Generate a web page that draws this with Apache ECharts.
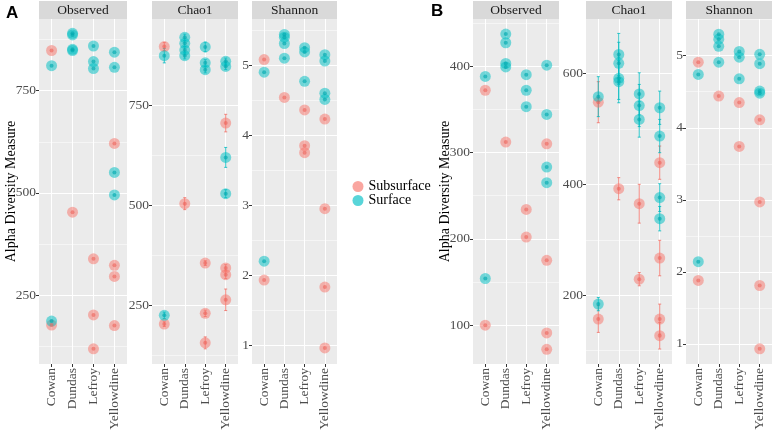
<!DOCTYPE html>
<html>
<head>
<meta charset="utf-8">
<script src="https://cdn.jsdelivr.net/npm/echarts@6/dist/echarts.min.js"></script>
<style>
  html, body { margin: 0; padding: 0; background: #fff; }
  #chart { width: 774px; height: 433px; }
</style>
</head>
<body>
<div id="chart"></div>
<script>
const sites = ['Cowan', 'Dundas', 'Lefroy', 'Yellowdine'];

// panel A, [site index, value] ; chao1 rows are [site index, value, se]
const aObservedSub = [[0, 848], [0, 177], [1, 453], [2, 339], [2, 202], [2, 119], [3, 621], [3, 323], [3, 296], [3, 176]];
const aObservedSurf = [[0, 811], [0, 187], [1, 890], [1, 886], [1, 851], [1, 848], [2, 859], [2, 821], [2, 804], [3, 844], [3, 807], [3, 550], [3, 495]];
const aChao1Sub = [[0, 898, 10], [0, 202, 6], [1, 504, 15], [2, 355, 6], [2, 229, 8], [2, 155, 15], [3, 706, 22], [3, 343, 8], [3, 326, 10], [3, 263, 27]];
const aChao1Surf = [[0, 875, 18], [0, 224, 8], [1, 921, 8], [1, 906, 8], [1, 889, 8], [1, 875, 8], [2, 897, 12], [2, 857, 8], [2, 840, 8], [3, 861, 8], [3, 848, 8], [3, 620, 25], [3, 529, 10]];
const aShannonSub = [[0, 5.08], [0, 1.93], [1, 4.54], [2, 4.36], [2, 3.85], [2, 3.75], [3, 4.23], [3, 2.95], [3, 1.83], [3, 0.96]];
const aShannonSurf = [[0, 4.90], [0, 2.20], [1, 5.44], [1, 5.40], [1, 5.31], [1, 5.10], [2, 5.25], [2, 5.19], [2, 4.77], [3, 5.15], [3, 5.06], [3, 4.60], [3, 4.51]];

// panel B
const bObservedSub = [[0, 372], [0, 100], [1, 312], [2, 234], [2, 202], [3, 310], [3, 175], [3, 91], [3, 72]];
const bObservedSurf = [[0, 388], [0, 154], [1, 437], [1, 427], [1, 403], [1, 399], [2, 390], [2, 372], [2, 353], [3, 401], [3, 344], [3, 283], [3, 265]];
const bChao1Sub = [[0, 548, 37], [0, 157, 24], [1, 392, 20], [2, 365, 35], [2, 229, 12], [3, 439, 30], [3, 267, 32], [3, 157, 27], [3, 127, 24]];
const bChao1Surf = [[0, 558, 36], [0, 184, 12], [1, 634, 38], [1, 618, 38], [1, 591, 38], [1, 585, 38], [2, 563, 38], [2, 542, 38], [2, 517, 32], [3, 538, 30], [3, 487, 30], [3, 376, 25], [3, 338, 22]];
const bShannonSub = [[0, 4.91], [0, 1.88], [1, 4.44], [2, 4.35], [2, 3.74], [3, 4.11], [3, 2.97], [3, 1.81], [3, 0.93]];
const bShannonSurf = [[0, 4.74], [0, 2.14], [1, 5.30], [1, 5.23], [1, 5.13], [1, 4.91], [2, 5.06], [2, 4.98], [2, 4.68], [3, 5.02], [3, 4.89], [3, 4.51], [3, 4.48]];

// axis ticks (major + minor gridlines)
const countTicks = [250, 500, 750];
const countMinor = [125, 375, 625, 875];
const shannonTicks = [1, 2, 3, 4, 5];
const shannonMinor = [1.5, 2.5, 3.5, 4.5, 5.5];
const bObservedTicks = [100, 200, 300, 400];
const bObservedMinor = [150, 250, 350, 450];
const bChao1Ticks = [200, 400, 600];
const bChao1Minor = [100, 300, 500];

const FONT = '"Liberation Serif", "DejaVu Serif", serif';
const SUB = 'rgba(248,118,109,0.65)';
const SUB_DOT = 'rgba(236,98,90,0.75)';
const SURF = 'rgba(0,191,196,0.65)';
const SURF_DOT = 'rgba(0,168,174,0.8)';
const TOP = 19, HEIGHT = 345;

const facets = [
  { strip: 'Observed', left: 39, width: 88, min: 82, max: 925, ticks: countTicks, minor: countMinor, sub: aObservedSub, surf: aObservedSurf, yName: true },
  { strip: 'Chao1', left: 152, width: 86, min: 102, max: 967, ticks: countTicks, minor: countMinor, sub: aChao1Sub, surf: aChao1Surf, err: true },
  { strip: 'Shannon', left: 252, width: 85, min: 0.73, max: 5.66, ticks: shannonTicks, minor: shannonMinor, sub: aShannonSub, surf: aShannonSurf },
  { strip: 'Observed', left: 473, width: 86, min: 55, max: 454.5, ticks: bObservedTicks, minor: bObservedMinor, sub: bObservedSub, surf: bObservedSurf, yName: true },
  { strip: 'Chao1', left: 586, width: 86, min: 76, max: 698, ticks: bChao1Ticks, minor: bChao1Minor, sub: bChao1Sub, surf: bChao1Surf, err: true },
  { strip: 'Shannon', left: 686, width: 86, min: 0.72, max: 5.51, ticks: shannonTicks, minor: shannonMinor, sub: bShannonSub, surf: bShannonSurf }
];

const grid = [], xAxis = [], yAxis = [], series = [], graphic = [];

function errorSeries(name, color, rows, i) {
  return {
    type: 'custom',
    name: name,
    xAxisIndex: i,
    yAxisIndex: i,
    z: 2,
    silent: true,
    encode: { x: 0, y: [1, 2] },
    data: rows.map(r => [r[0] + 1, r[1] - r[2], r[1] + r[2]]),
    renderItem: function (params, api) {
      const lo = api.coord([api.value(0), api.value(1)]);
      const hi = api.coord([api.value(0), api.value(2)]);
      const w = 1.5;
      const style = { stroke: color, lineWidth: 1 };
      return {
        type: 'group',
        children: [
          { type: 'line', shape: { x1: lo[0], y1: lo[1], x2: hi[0], y2: hi[1] }, style: style },
          { type: 'line', shape: { x1: lo[0] - w, y1: lo[1], x2: lo[0] + w, y2: lo[1] }, style: style },
          { type: 'line', shape: { x1: hi[0] - w, y1: hi[1], x2: hi[0] + w, y2: hi[1] }, style: style }
        ]
      };
    }
  };
}

function pointSeries(name, color, size, rows, i, z) {
  return {
    type: 'scatter',
    name: name,
    xAxisIndex: i,
    yAxisIndex: i,
    symbol: 'circle',
    symbolSize: size,
    z: z,
    silent: true,
    itemStyle: { color: color },
    data: rows.map(r => [r[0] + 1, r[1]])
  };
}

facets.forEach((f, i) => {
  grid.push({ left: f.left, top: TOP, width: f.width, height: HEIGHT, show: true, backgroundColor: '#EBEBEB', borderWidth: 0, outerBoundsMode: 'none' });
  xAxis.push({
    type: 'value', gridIndex: i, min: 0.4, max: 4.6,
    axisLine: { show: false }, splitLine: { show: false },
    axisTick: { show: true, customValues: [1, 2, 3, 4], length: 3, lineStyle: { color: '#333' } },
    axisLabel: { customValues: [1, 2, 3, 4], formatter: v => sites[Math.round(v) - 1], rotate: 90, color: '#4D4D4D', fontSize: 13.5, fontFamily: FONT, margin: 4 }
  });
  yAxis.push({
    type: 'value', gridIndex: i, min: f.min, max: f.max,
    axisLine: { show: false }, splitLine: { show: false },
    axisTick: { show: true, customValues: f.ticks, length: 3, lineStyle: { color: '#333' } },
    axisLabel: { customValues: f.ticks, color: '#4D4D4D', fontSize: 13.5, fontFamily: FONT, margin: 3 },
    name: f.yName ? 'Alpha Diversity Measure' : '',
    nameLocation: 'middle', nameGap: 21, nameMoveOverlap: false,
    nameTextStyle: { color: '#000', fontSize: 14, fontFamily: FONT }
  });

  // white grid lines, kept under the points
  const lines = []
    .concat(f.minor.map(v => ({ yAxis: v, lineStyle: { width: 0.5 } })))
    .concat(f.ticks.map(v => ({ yAxis: v })))
    .concat([1, 2, 3, 4].map(v => ({ xAxis: v })));
  series.push({
    type: 'scatter', xAxisIndex: i, yAxisIndex: i, data: [], z: 1, silent: true,
    markLine: { z: 1, silent: true, symbol: 'none', animation: false, label: { show: false },
      lineStyle: { color: '#FFFFFF', width: 1, type: 'solid' }, emphasis: { disabled: true }, data: lines }
  });

  series.push(pointSeries('Subsurface', SUB, 11, f.sub, i, 3));
  series.push(pointSeries('Surface', SURF, 11, f.surf, i, 3));
  series.push(pointSeries('Subsurface', SUB_DOT, 4, f.sub, i, 4));
  series.push(pointSeries('Surface', SURF_DOT, 4, f.surf, i, 4));
  if (f.err) {
    series.push(errorSeries('Subsurface', 'rgba(240,110,100,0.8)', f.sub, i));
    series.push(errorSeries('Surface', 'rgba(0,185,190,0.8)', f.surf, i));
  }

  // facet strip
  graphic.push({ type: 'rect', left: f.left, top: 1, shape: { width: f.width, height: 18 }, style: { fill: '#D9D9D9' }, silent: true });
  graphic.push({ type: 'text', x: f.left + f.width / 2, y: 10, silent: true,
    style: { text: f.strip, fill: '#1A1A1A', font: '13.5px ' + FONT, textAlign: 'center', textVerticalAlign: 'middle' } });
});

graphic.push({ type: 'text', x: 6, y: 5, silent: true, style: { text: 'A', fill: '#000', font: 'bold 17px "Liberation Sans", Arial, sans-serif' } });
graphic.push({ type: 'text', x: 431, y: 3, silent: true, style: { text: 'B', fill: '#000', font: 'bold 17px "Liberation Sans", Arial, sans-serif' } });

const chart = echarts.init(document.getElementById('chart'), null, { renderer: 'canvas' });
chart.setOption({
  animation: false,
  backgroundColor: '#FFFFFF',
  grid: grid,
  xAxis: xAxis,
  yAxis: yAxis,
  legend: {
    data: ['Subsurface', 'Surface'],
    orient: 'vertical', left: 352.5, top: 179.5, itemGap: 0, padding: 0,
    icon: 'circle', itemWidth: 11, itemHeight: 11, itemStyle: { opacity: 1 },
    selectedMode: false,
    textStyle: { color: '#000', fontSize: 14, lineHeight: 13, fontFamily: FONT }
  },
  graphic: graphic,
  series: series
});
</script>
</body>
</html>
